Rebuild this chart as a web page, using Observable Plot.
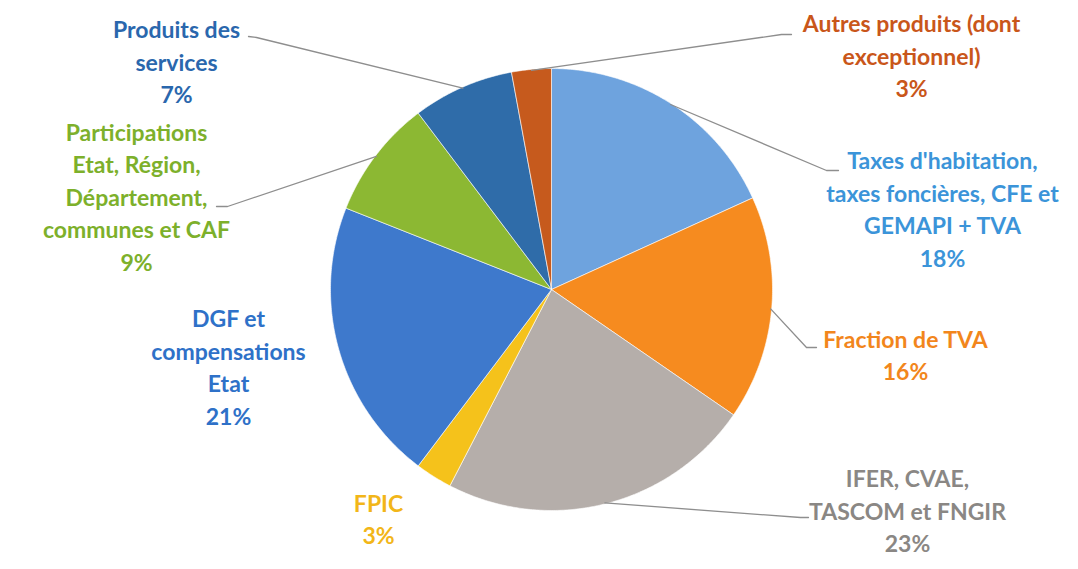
<!DOCTYPE html>
<html>
<head>
<meta charset="utf-8">
<script src="https://cdn.jsdelivr.net/npm/d3@7"></script>
<script src="https://cdn.jsdelivr.net/npm/@observablehq/plot@0.6"></script>
<style>
  html, body { margin: 0; padding: 0; background: #ffffff; }
  #chart svg { display: block; }
</style>
</head>
<body>
<div id="chart"></div>
<script>
// ---- data (clockwise from 12 o'clock) ----
const categories = [
  "Taxes d'habitation, taxes foncières, CFE et GEMAPI + TVA",
  "Fraction de TVA",
  "IFER, CVAE, TASCOM et FNGIR",
  "FPIC",
  "DGF et compensations Etat",
  "Participations Etat, Région, Département, communes et CAF",
  "Produits des services",
  "Autres produits (dont exceptionnel)"
];
const values = [18.2, 16.4, 23.0, 2.7, 20.7, 8.7, 7.4, 2.9];
const labelLines = [
  ["Taxes d'habitation,", "taxes foncières, CFE et", "GEMAPI + TVA"],
  ["Fraction de TVA"],
  ["IFER, CVAE,", "TASCOM et FNGIR"],
  ["FPIC"],
  ["DGF et", "compensations", "Etat"],
  ["Participations", "Etat, Région,", "Département,", "communes et CAF"],
  ["Produits des", "services"],
  ["Autres produits (dont", "exceptionnel)"]
];

// ---- styles ----
const sliceColors = ["#6ea3de", "#f68b1f", "#b5aeaa", "#f5c21b", "#3e79cc", "#8cb833", "#2f6ca9", "#c65a1d"];
const textColors  = ["#3b94d9", "#f2861c", "#8a8784", "#f2b619", "#2e71c8", "#7db02b", "#2a67ad", "#c9561a"];

// ---- layout ----
const W = 1078, H = 569;
const cx = 551, cy = 289, R = 221;
// label block centre, and leader line start / elbow (null = no leader)
const labelLayout = [
  {x: 942, y: 207, start: [838, 170], elbow: [826, 170]},
  {x: 905, y: 353, start: [816, 347], elbow: [806, 347]},
  {x: 907, y: 509, start: [808, 517], elbow: [800, 517]},
  {x: 378, y: 517, start: null},
  {x: 228, y: 365, start: null},
  {x: 136, y: 195, start: [216, 206], elbow: [227, 206]},
  {x: 176, y: 60,  start: [248, 36],  elbow: [256, 37]},
  {x: 911, y: 54,  start: [791, 34],  elbow: [781, 34]}
];

// ---- build geometry from data ----
const arcs = d3.pie().sort(null).value(d => d)(values);
const pt = (a, r) => [cx + r * Math.sin(a), cy - r * Math.cos(a)];

const wedgePts = [];
arcs.forEach((a, i) => {
  wedgePts.push({i, x: cx, y: cy});
  const n = Math.max(4, Math.ceil((a.endAngle - a.startAngle) / (Math.PI / 360)));
  for (let k = 0; k <= n; k++) {
    const t = a.startAngle + (a.endAngle - a.startAngle) * k / n;
    const [x, y] = pt(t, R);
    wedgePts.push({i, x, y});
  }
  wedgePts.push({i, x: cx, y: cy});
});

const leaderPts = [];
arcs.forEach((a, i) => {
  const L = labelLayout[i];
  if (!L.start) return;
  const mid = (a.startAngle + a.endAngle) / 2;
  const [ex, ey] = pt(mid, R - 1);
  leaderPts.push({i, x: L.start[0], y: L.start[1]});
  leaderPts.push({i, x: L.elbow[0], y: L.elbow[1]});
  leaderPts.push({i, x: ex, y: ey});
});

const labels = arcs.map((a, i) => ({
  x: labelLayout[i].x,
  y: labelLayout[i].y,
  text: [...labelLines[i], Math.round(values[i]) + "%"].join("\n"),
  color: textColors[i]
}));

const chart = Plot.plot({
  width: W,
  height: H,
  margin: 0,
  x: {domain: [0, W], range: [0, W], axis: null},
  y: {domain: [0, H], range: [0, H], axis: null},
  color: {type: "identity"},
  style: {background: "#ffffff"},
  marks: [
    Plot.line(wedgePts, {
      x: "x", y: "y", z: "i",
      fill: d => sliceColors[d.i],
      stroke: "#ffffff", strokeWidth: 1, strokeOpacity: 0.6,
      curve: "linear-closed"
    }),
    Plot.line(leaderPts, {
      x: "x", y: "y", z: "i",
      stroke: "#8e8e8e", strokeWidth: 1.3
    }),
    Plot.text(labels, {
      x: "x", y: "y", text: "text",
      fill: "color",
      fontSize: 23,
      fontWeight: "bold",
      fontFamily: "Lato, 'Open Sans', sans-serif",
      lineHeight: 1.41,
      lineAnchor: "middle",
      textAnchor: "middle"
    })
  ]
});
document.getElementById("chart").appendChild(chart);
</script>
</body>
</html>
